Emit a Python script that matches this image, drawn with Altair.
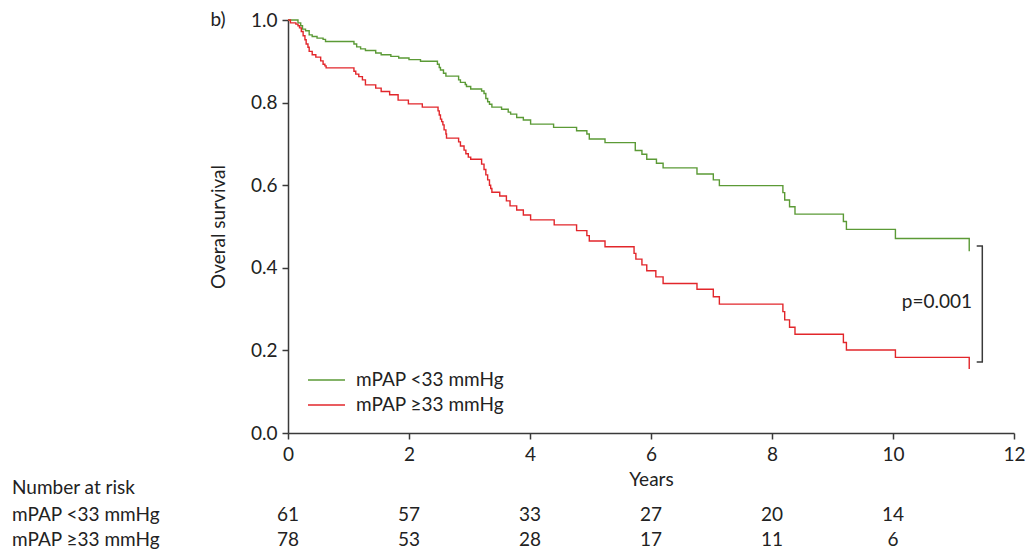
import altair as alt
import pandas as pd

# ---- data ----
groups = ["mPAP <33 mmHg", "mPAP \u226533 mmHg"]
colors = ["#5b9a36", "#e2262b"]

green_t = [0, 0.165, 0.21, 0.24, 0.29, 0.35, 0.40, 0.48, 0.58, 0.62, 1.09, 1.135, 1.20, 1.28,
           1.45, 1.54, 1.70, 1.83, 2.00, 2.19, 2.47, 2.50, 2.52, 2.57, 2.61, 2.82, 2.85, 2.93,
           2.95, 3.02, 3.20, 3.24, 3.27, 3.30, 3.33, 3.37, 3.53, 3.64, 3.68, 3.78, 3.89, 4.01,
           4.39, 4.77, 4.94, 4.98, 5.24, 5.74, 5.85, 5.93, 6.09, 6.20, 6.76, 7.03, 7.13, 8.18,
           8.21, 8.29, 8.38, 9.18, 9.23, 10.04, 11.26]
green_s = [1.0, 0.993, 0.986, 0.978, 0.974, 0.964, 0.960, 0.956, 0.953, 0.948, 0.942, 0.935, 0.930,
           0.926, 0.920, 0.916, 0.912, 0.908, 0.904, 0.900, 0.893, 0.885, 0.879, 0.871, 0.864,
           0.855, 0.849, 0.844, 0.839, 0.833, 0.828, 0.822, 0.810, 0.802, 0.796, 0.789, 0.784,
           0.777, 0.772, 0.764, 0.758, 0.748, 0.740, 0.732, 0.724, 0.712, 0.703, 0.684, 0.675,
           0.663, 0.653, 0.642, 0.627, 0.613, 0.599, 0.582, 0.564, 0.548, 0.530, 0.512, 0.493,
           0.471, 0.440]

red_t = [0, 0.04, 0.13, 0.165, 0.19, 0.22, 0.25, 0.28, 0.30, 0.33, 0.35, 0.40, 0.46, 0.54, 0.58,
         0.61, 0.63, 1.09, 1.12, 1.17, 1.23, 1.28, 1.45, 1.54, 1.68, 1.82, 1.99, 2.22, 2.48, 2.50,
         2.52, 2.54, 2.56, 2.58, 2.61, 2.62, 2.82, 2.85, 2.91, 2.94, 2.98, 3.02, 3.20, 3.24, 3.27,
         3.30, 3.33, 3.35, 3.37, 3.50, 3.61, 3.67, 3.78, 3.89, 4.01, 4.40, 4.77, 4.94, 4.98, 5.24,
         5.72, 5.75, 5.85, 5.93, 6.08, 6.20, 6.76, 7.03, 7.13, 8.18, 8.21, 8.29, 8.38, 9.18, 9.23,
         10.04, 11.26]
red_s = [1.0, 0.993, 0.990, 0.986, 0.981, 0.972, 0.962, 0.952, 0.942, 0.934, 0.924, 0.916, 0.910,
         0.901, 0.893, 0.889, 0.884, 0.876, 0.869, 0.863, 0.855, 0.843, 0.835, 0.827, 0.819, 0.806,
         0.797, 0.789, 0.780, 0.770, 0.760, 0.754, 0.746, 0.734, 0.724, 0.714, 0.705, 0.695, 0.685,
         0.676, 0.668, 0.663, 0.651, 0.638, 0.625, 0.613, 0.600, 0.592, 0.583, 0.574, 0.562, 0.550,
         0.540, 0.528, 0.516, 0.504, 0.490, 0.478, 0.465, 0.451, 0.435, 0.421, 0.407, 0.393, 0.378,
         0.362, 0.348, 0.330, 0.312, 0.294, 0.274, 0.256, 0.239, 0.219, 0.201, 0.183, 0.155]

risk_times = [0, 2, 4, 6, 8, 10]
risk_low = [61, 57, 33, 27, 20, 14]
risk_high = [78, 53, 28, 17, 11, 6]

x_ticks = [0, 2, 4, 6, 8, 10, 12]
y_ticks = [0.0, 0.2, 0.4, 0.6, 0.8, 1.0]
p_text = "p=0.001"
panel_label = "b)"
risk_title = "Number at risk"

FONT = "Lato"
FS = 19
TXT = "#222222"
AX = "#3a3a3a"

W, H = 726, 413

# ---- tables ----
curves = pd.concat([
    pd.DataFrame({"t": green_t, "s": green_s, "g": groups[0], "o": range(len(green_t))}),
    pd.DataFrame({"t": red_t, "s": red_s, "g": groups[1], "o": range(len(red_t))}),
])

color_scale = alt.Scale(domain=groups, range=colors)

x_enc = alt.X("t:Q", scale=alt.Scale(domain=[0, 12], nice=False),
              axis=alt.Axis(values=x_ticks, title="Years", format="d"))

lines = alt.Chart(curves).mark_line(interpolate="step-after", strokeWidth=1.4).encode(
    x=x_enc,
    y=alt.Y("s:Q", scale=alt.Scale(domain=[0, 1], nice=False),
            axis=alt.Axis(values=y_ticks, format=".1f", title="Overal survival")),
    color=alt.Color("g:N", scale=color_scale, legend=None),
    order="o:Q",
    detail="g:N",
)

# legend (manual)
leg = pd.DataFrame({"g": groups, "yp": [360, 385]})
leg_lines = alt.Chart(leg).mark_rule(strokeWidth=1.4).encode(
    x=alt.value(20), x2=alt.value(57),
    y=alt.Y("yp:Q", scale=None),
    color=alt.Color("g:N", scale=color_scale, legend=None),
)
leg_text = alt.Chart(leg).mark_text(align="left", baseline="middle", font=FONT,
                                    fontSize=FS, color=TXT).encode(
    x=alt.value(68), y=alt.Y("yp:Q", scale=None), text="g:N")

# bracket with p value
br = pd.DataFrame({"x": [694.3], "y1": [226], "y2": [342]})
br_v = alt.Chart(br).mark_rule(color=AX, strokeWidth=1.5).encode(
    x=alt.X("x:Q", scale=None), y=alt.Y("y1:Q", scale=None), y2="y2:Q")
br_h = alt.Chart(pd.DataFrame({"y": [226, 342]})).mark_rule(color=AX, strokeWidth=1.5).encode(
    x=alt.value(688.7), x2=alt.value(695), y=alt.Y("y:Q", scale=None))
p_lab = alt.Chart(pd.DataFrame({"txt": [p_text]})).mark_text(
    align="right", baseline="middle", font=FONT, fontSize=FS, color=TXT).encode(
    x=alt.value(684), y=alt.value(282), text="txt:N")

# panel label
b_lab = alt.Chart(pd.DataFrame({"txt": [panel_label]})).mark_text(
    align="center", baseline="middle", font=FONT, fontSize=FS, color=TXT).encode(
    x=alt.value(-70), y=alt.value(0), text="txt:N")

# number at risk table
risk = pd.concat([
    pd.DataFrame({"t": risk_times, "n": risk_low, "yp": 495}),
    pd.DataFrame({"t": risk_times, "n": risk_high, "yp": 520}),
])
risk_nums = alt.Chart(risk).mark_text(align="center", baseline="middle", font=FONT,
                                      fontSize=FS, color=TXT).encode(
    x=alt.X("t:Q"), y=alt.Y("yp:Q", scale=None), text="n:Q")
rows = pd.DataFrame({"txt": [risk_title] + groups, "yp": [468, 495, 520]})
risk_rows = alt.Chart(rows).mark_text(align="left", baseline="middle", font=FONT,
                                      fontSize=FS, color=TXT).encode(
    x=alt.value(-276), y=alt.Y("yp:Q", scale=None), text="txt:N")

chart = alt.layer(lines, leg_lines, leg_text, br_v, br_h, p_lab, b_lab, risk_nums, risk_rows).properties(
    width=W, height=H,
    autosize=alt.AutoSizeParams(type="none"),
    padding={"left": 288, "top": 20, "right": 12, "bottom": 116},
    background="white",
).configure_view(stroke=None).configure_axis(
    grid=False, domainColor=AX, domainWidth=1.5, tickColor=AX, tickWidth=1.5, tickSize=6,
    labelFont=FONT, labelFontSize=FS, labelColor=TXT, titleFont=FONT, titleFontSize=FS,
    titleFontWeight="normal", titleColor=TXT,
).configure_axisX(labelPadding=6, titlePadding=6, labelFlush=False
).configure_axisY(labelPadding=5, titlePadding=22)

chart.save("out.html", embed_options={"renderer": "svg", "actions": False})
